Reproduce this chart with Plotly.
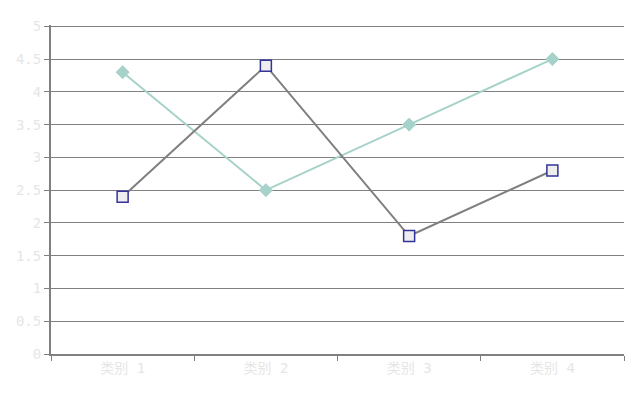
import plotly.graph_objects as go

categories = ["类别 1", "类别 2", "类别 3", "类别 4"]
series_a = [2.4, 4.4, 1.8, 2.8]
series_b = [4.3, 2.5, 3.5, 4.5]
y_ticks = [0, 0.5, 1, 1.5, 2, 2.5, 3, 3.5, 4, 4.5, 5]
y_labels = ["0", "0.5", "1", "1.5", "2", "2.5", "3", "3.5", "4", "4.5", "5"]

fig = go.Figure()
fig.add_trace(go.Scatter(
    x=categories, y=series_b, mode="lines+markers",
    line=dict(color="#a6d2ca", width=2),
    marker=dict(symbol="diamond", size=10, color="#a6d2ca",
                line=dict(color="#a6d2ca", width=1)),
    showlegend=False,
))
fig.add_trace(go.Scatter(
    x=categories, y=series_a, mode="lines+markers",
    line=dict(color="#7f7f7f", width=2),
    marker=dict(symbol="square", size=11, color="#eeeeee",
                line=dict(color="#333399", width=1.5)),
    showlegend=False,
))

font_fam = "DejaVu Sans Mono, Noto Sans CJK SC, sans-serif"
fig.update_layout(
    width=632, height=388,
    margin=dict(l=43, r=16, t=17, b=42),
    paper_bgcolor="white", plot_bgcolor="white",
    font=dict(family=font_fam, size=14, color="#e6e6e6"),
    xaxis=dict(
        type="category", range=[-0.5, 3.5], automargin=False,
        tickson="boundaries", ticks="outside", ticklen=5, tickcolor="#808080",
        showline=True, linecolor="#808080", linewidth=2,
        showgrid=False, tickfont=dict(family=font_fam, size=14, color="#e6e6e6"),
    ),
    yaxis=dict(
        range=[0, 5.02], tickvals=y_ticks, ticktext=y_labels, automargin=False,
        ticks="outside", ticklen=5, tickcolor="#808080",
        showline=True, linecolor="#808080", linewidth=2,
        showgrid=True, gridcolor="#808080", gridwidth=1,
        zeroline=False, tickfont=dict(family=font_fam, size=14, color="#e6e6e6"),
    ),
)
fig.write_html("out.html")
